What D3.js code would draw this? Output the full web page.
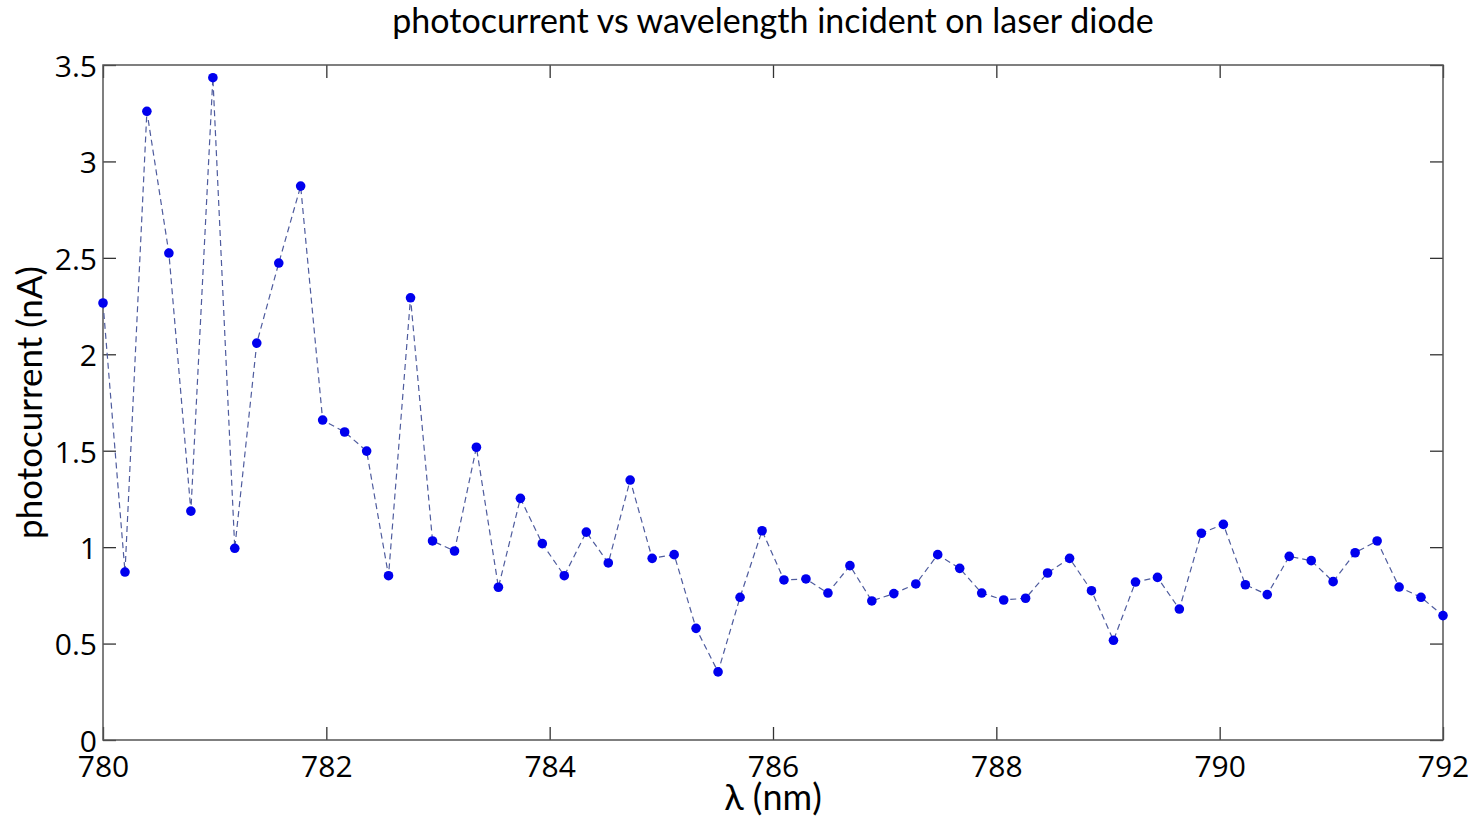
<!DOCTYPE html>
<html>
<head>
<meta charset="utf-8">
<script src="https://cdn.jsdelivr.net/npm/d3@7"></script>
<style>
  body { margin: 0; background: #fff; }
  svg { display: block; }
  .tick text { font-family: "Open Sans", sans-serif; }
</style>
</head>
<body>
<svg id="chart" width="1477" height="821"></svg>
<script>
// wavelength samples (nm)
const wavelength = [
  780.000, 780.197, 780.393, 780.590, 780.787, 780.984, 781.180, 781.377, 781.574, 781.770,
  781.967, 782.164, 782.361, 782.557, 782.754, 782.951, 783.148, 783.344, 783.541, 783.738,
  783.934, 784.131, 784.328, 784.525, 784.721, 784.918, 785.115, 785.311, 785.508, 785.705,
  785.902, 786.098, 786.295, 786.492, 786.689, 786.885, 787.082, 787.279, 787.475, 787.672,
  787.869, 788.066, 788.262, 788.459, 788.656, 788.852, 789.049, 789.246, 789.443, 789.639,
  789.836, 790.033, 790.230, 790.426, 790.623, 790.820, 791.016, 791.213, 791.410, 791.607,
  791.803, 792.000
];
// photocurrent (nA)
const photocurrent = [
  2.266, 0.871, 3.260, 2.525, 1.187, 3.434, 0.994, 2.058, 2.473, 2.872,
  1.659, 1.597, 1.498, 0.852, 2.293, 1.032, 0.980, 1.518, 0.792, 1.253,
  1.018, 0.852, 1.078, 0.918, 1.348, 0.942, 0.961, 0.579, 0.353, 0.740,
  1.085, 0.830, 0.835, 0.762, 0.904, 0.721, 0.759, 0.809, 0.961, 0.890,
  0.762, 0.726, 0.735, 0.866, 0.942, 0.774, 0.517, 0.819, 0.843, 0.679,
  1.072, 1.118, 0.805, 0.754, 0.952, 0.930, 0.821, 0.971, 1.032, 0.793,
  0.740, 0.645
];
const xTicks = [780, 782, 784, 786, 788, 790, 792];
const yTicks = [0, 0.5, 1, 1.5, 2, 2.5, 3, 3.5];

const margin = { top: 65, right: 34, bottom: 81, left: 103 };
const width = 1477 - margin.left - margin.right;
const height = 821 - margin.top - margin.bottom;

const svg = d3.select('#chart');
const g = svg.append('g').attr('transform', `translate(${margin.left},${margin.top})`);

const x = d3.scaleLinear().domain([780, 792]).range([0, width]);
const y = d3.scaleLinear().domain([0, 3.5]).range([height, 0]);

const data = wavelength.map((w, i) => ({ w: w, v: photocurrent[i] }));

// axes with inward ticks
const fmt = d => String(d);
const tickLen = 13;

const xAxis = g.append('g')
  .attr('transform', `translate(0,${height})`)
  .call(d3.axisBottom(x).tickValues(xTicks).tickFormat(fmt).tickSizeInner(-tickLen).tickSizeOuter(0));
xAxis.selectAll('text').attr('dy', '0').attr('y', 37).style('font-size', '30px').attr('fill', '#000');

const yAxis = g.append('g')
  .call(d3.axisLeft(y).tickValues(yTicks).tickFormat(fmt).tickSizeInner(-tickLen).tickSizeOuter(0));
yAxis.selectAll('text').attr('x', -6).attr('dy', '0.38em').style('font-size', '30px').attr('fill', '#000');

// mirrored ticks on top / right
g.append('g')
  .call(d3.axisTop(x).tickValues(xTicks).tickFormat('').tickSizeInner(-tickLen).tickSizeOuter(0));
g.append('g')
  .attr('transform', `translate(${width},0)`)
  .call(d3.axisRight(y).tickValues(yTicks).tickFormat('').tickSizeInner(-tickLen).tickSizeOuter(0));

g.selectAll('.domain').remove();
g.selectAll('.tick line').attr('stroke', '#333').attr('stroke-width', 1.3);

// frame
g.append('rect')
  .attr('width', width).attr('height', height)
  .attr('fill', 'none').attr('stroke', '#555').attr('stroke-width', 1.5);

// dashed line
const line = d3.line().x(d => x(d.w)).y(d => y(d.v));
g.append('path')
  .datum(data)
  .attr('d', line)
  .attr('fill', 'none')
  .attr('stroke', '#4f5c9e')
  .attr('stroke-width', 1.2)
  .attr('stroke-dasharray', '6,4');

// markers
g.selectAll('circle.pt')
  .data(data)
  .enter()
  .append('circle')
  .attr('class', 'pt')
  .attr('cx', d => x(d.w))
  .attr('cy', d => y(d.v))
  .attr('r', 4.8)
  .attr('fill', '#0000ee');

// title and labels
svg.append('text')
  .attr('x', margin.left + width / 2).attr('y', 33)
  .attr('text-anchor', 'middle')
  .style('font-family', 'Lato, "Open Sans", sans-serif')
  .style('font-size', '34px')
  .text('photocurrent vs wavelength incident on laser diode');

svg.append('text')
  .attr('x', margin.left + width / 2).attr('y', 810)
  .attr('text-anchor', 'middle')
  .style('font-family', 'Lato, "Open Sans", sans-serif')
  .style('font-size', '36px')
  .text('λ (nm)');

svg.append('text')
  .attr('transform', `translate(42,${margin.top + height / 2}) rotate(-90)`)
  .attr('text-anchor', 'middle')
  .style('font-family', 'Lato, "Open Sans", sans-serif')
  .style('font-size', '35px')
  .text('photocurrent (nA)');
</script>
</body>
</html>
